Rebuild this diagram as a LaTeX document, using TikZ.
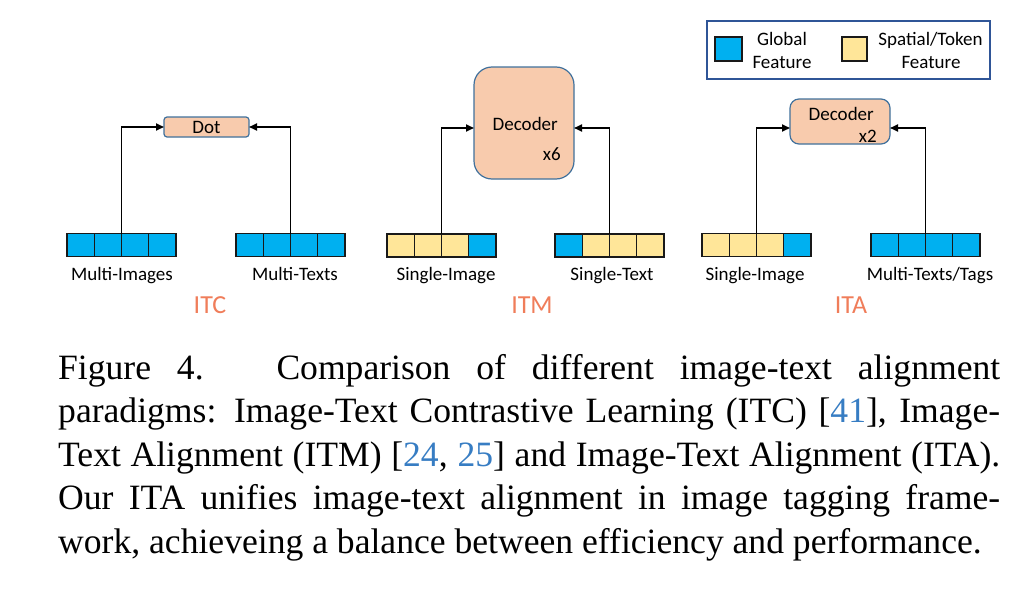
\documentclass[tikz,border=0pt]{standalone}
\usepackage{fontspec}
\setmainfont{Liberation Serif}
\newfontfamily\calfont{Carlito}
\usetikzlibrary{arrows.meta,positioning}
\definecolor{gblue}{HTML}{00B0F0}
\definecolor{syellow}{HTML}{FFE699}
\definecolor{peach}{HTML}{F8CBAD}
\definecolor{bordblue}{HTML}{41719C}
\definecolor{legblue}{HTML}{2F5597}
\definecolor{tagorange}{RGB}{240,125,90}
\definecolor{citeblue}{RGB}{55,125,195}
\newcommand\featbar[6]{%
  \node[#3] (#1-1) at (#2) {};
  \node[#4, right=0pt of #1-1] (#1-2) {};
  \node[#5, right=0pt of #1-2] (#1-3) {};
  \node[#6, right=0pt of #1-3] (#1-4) {};
}
\tikzset{
  cell/.style={draw=black!90, line width=1.4pt, minimum width=27.2pt, minimum height=23pt, inner sep=0pt, outer sep=0pt},
  gf/.style={cell, fill=gblue},
  sf/.style={cell, fill=syellow},
  box/.style={draw=bordblue, fill=peach, line width=1.2pt, inner sep=0pt, outer sep=0pt},
  lab/.style={font=\calfont\fontsize{19}{22}\selectfont, anchor=base, inner sep=0pt},
  tag/.style={font=\calfont\fontsize{26}{30}\selectfont, text=tagorange, anchor=base, inner sep=0pt},
  arr/.style={-{Triangle[length=8pt,width=7pt]}, line width=1.8pt},
  capline/.style={anchor=base west, inner sep=0pt, font=\fontsize{35.6}{43.5}\selectfont},
}
\begin{document}
\begin{tikzpicture}[x=1pt,y=-1pt]
\useasboundingbox[fill=white] (0,0) rectangle (1011,602);

% legend
\node[draw=legblue, line width=1.3pt, minimum width=283pt, minimum height=58pt, inner sep=0pt] (legend) at (848.5,50) {};
\node[gf, minimum width=27pt, minimum height=24pt] (lg) at (728.5,49) {};
\node[sf, minimum width=25pt, minimum height=24pt] (ls) at (854.5,49) {};
\node[lab] (lgt1) at (782,45.7) {Global};
\node[lab] (lgt2) at (782,69) {Feature};
\node[lab] (lst1) at (930.5,45.7) {Spatial/Token};
\node[lab] (lst2) at (931,69) {Feature};

% ITC
\node[box, rounded corners=3pt, minimum width=85pt, minimum height=20pt, font=\calfont\fontsize{19}{22}\selectfont] (dot) at (206.5,127) {Dot};
\featbar{a}{80.6,245}{gf}{gf}{gf}{gf}
\featbar{b}{249.6,245}{gf}{gf}{gf}{gf}
\draw[arr] (a-2.north east) |- (dot.west);
\draw[arr] (b-2.north east) |- (dot.east);
\node[lab] (la) at (122,280.5) {Multi-Images};
\node[lab] (lb) at (295,280.5) {Multi-Texts};
\node[tag] (itc) at (210,313) {ITC};

% ITM
\node[box, rounded corners=18pt, minimum width=100pt, minimum height=112pt] (dec1) at (524,123) {};
\node[lab, anchor=base east] (dec1a) at (558,130) {Decoder};
\node[lab, anchor=base east] (dec1b) at (561,160) {x6};
\featbar{c}{400.6,245.5}{sf}{sf}{sf}{gf}
\featbar{d}{568.6,245.5}{gf}{sf}{sf}{sf}
\draw[arr] (c-2.north east) |- ([yshift=-5pt]dec1.west);
\draw[arr] (d-2.north east) |- ([yshift=-5pt]dec1.east);
\node[lab] (lc) at (446,280.5) {Single-Image};
\node[lab] (ld) at (612,280.5) {Single-Text};
\node[tag] (itm) at (532,313) {ITM};

% ITA
\node[box, rounded corners=9pt, minimum width=100pt, minimum height=45pt] (dec2) at (840,121.5) {};
\node[lab, anchor=base east] (dec2a) at (874,120) {Decoder};
\node[lab, anchor=base east] (dec2b) at (877,142) {x2};
\featbar{e}{715.6,245}{sf}{sf}{sf}{gf}
\featbar{f}{884.6,245}{gf}{gf}{gf}{gf}
\draw[arr] (e-2.north east) |- ([yshift=-6.5pt]dec2.west);
\draw[arr] (f-2.north east) |- ([yshift=-6.5pt]dec2.east);
\node[lab] (le) at (755,280.5) {Single-Image};
\node[lab] (lf) at (930,280.5) {Multi-Texts/Tags};
\node[tag] (ita) at (851,313) {ITA};

% caption
\node[capline] (cap1) at (58,379) {\makebox[942pt][s]{Figure 4.\hspace{10pt} Comparison of different image-text alignment}};
\node[capline] (cap2) at (58,422.5) {\makebox[942pt][s]{paradigms: Image-Text Contrastive Learning (ITC) [\textcolor{citeblue}{41}], Image-}};
\node[capline] (cap3) at (58,466) {\makebox[942pt][s]{Text Alignment (ITM) [\textcolor{citeblue}{24}, \textcolor{citeblue}{25}] and Image-Text Alignment (ITA).}};
\node[capline] (cap4) at (58,509.5) {\makebox[942pt][s]{Our ITA unifies image-text alignment in image tagging frame-}};
\node[capline] (cap5) at (58,553) {work, achieveing a balance between efficiency and performance.};
\end{tikzpicture}
\end{document}
